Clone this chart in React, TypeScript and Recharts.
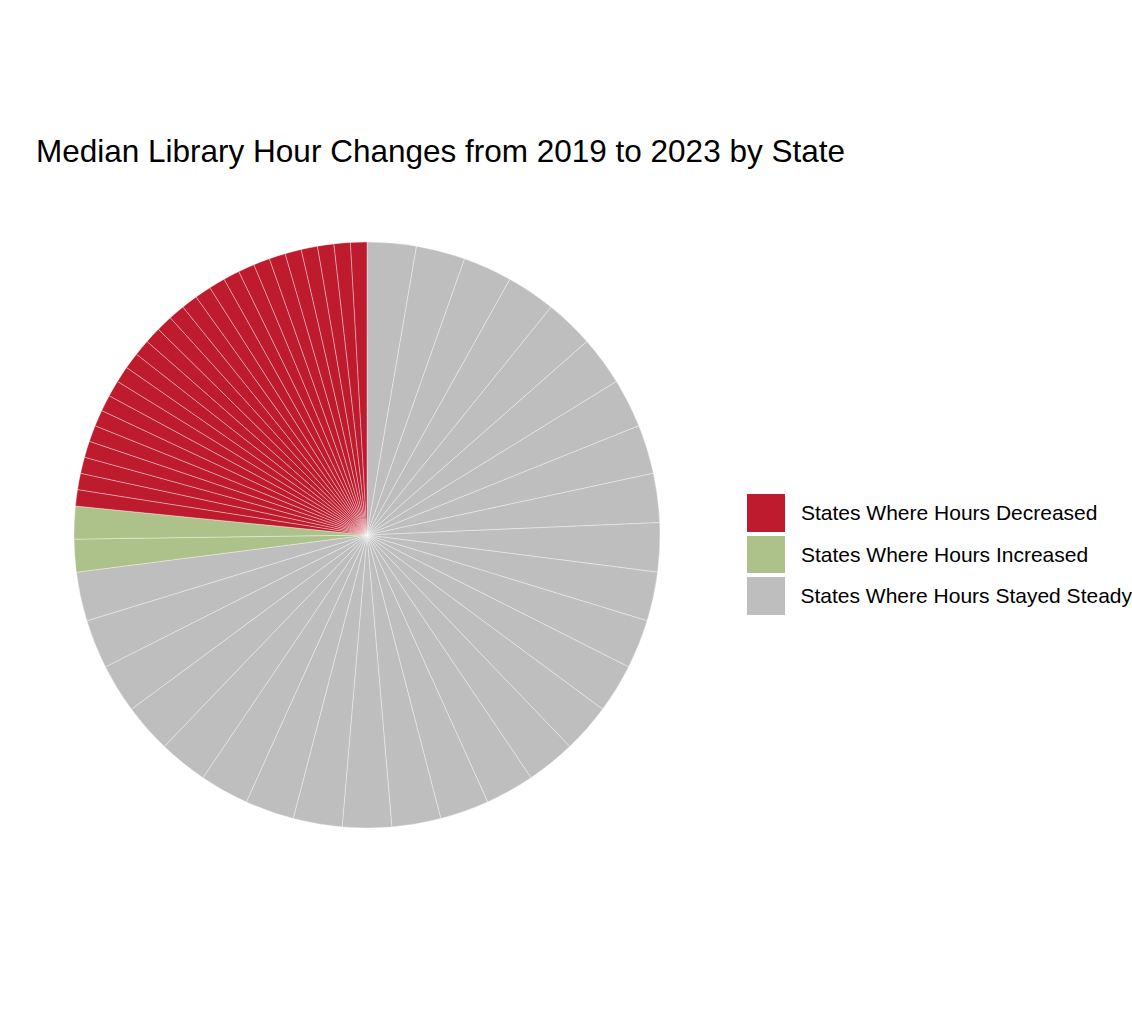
import React from "react"
import { PieChart, Pie, Cell, Legend } from "recharts"

// slices run clockwise from 12 o'clock: steady, then increased, then decreased
const steadyStates = [
  "AL", "AK", "AZ", "AR", "CT", "DE", "FL", "GA", "HI", "ID", "IN", "IA", "KS", "KY",
  "LA", "ME", "MS", "MO", "MT", "NE", "NV", "NH", "NM", "ND", "OK", "SD", "TN",
]
const steadyValues = [3, 3, 3, 3, 3, 3, 3, 3, 3, 3, 3, 3, 3, 3, 3, 3, 3, 3, 3, 3, 3, 3, 3, 3, 3, 3, 3]

const increasedStates = ["UT", "WY"]
const increasedValues = [2, 2]

const decreasedStates = [
  "CA", "CO", "DC", "IL", "MD", "MA", "MI", "MN", "NJ", "NY", "NC", "OH", "OR",
  "PA", "RI", "SC", "TX", "VT", "VA", "WA", "WV", "WI", "GU", "PR", "VI", "AS",
]
const decreasedValues = [1, 1, 1, 1, 1, 1, 1, 1, 1, 1, 1, 1, 1, 1, 1, 1, 1, 1, 1, 1, 1, 1, 1, 1, 1, 1]

const groupLabels = [
  "States Where Hours Decreased",
  "States Where Hours Increased",
  "States Where Hours Stayed Steady",
]
const groupColors = ["#BE1B2F", "#ACC28A", "#BEBEBE"]

const data = [
  ...steadyStates.map((state, i) => ({ state, value: steadyValues[i], group: 2 })),
  ...increasedStates.map((state, i) => ({ state, value: increasedValues[i], group: 1 })),
  ...decreasedStates.map((state, i) => ({ state, value: decreasedValues[i], group: 0 })),
]

const font = '"Liberation Sans", Arial, sans-serif'

function GroupLegend() {
  return (
    <div style={{ fontFamily: font }}>
      {groupLabels.map((label, i) => (
        <div key={label} style={{ display: "flex", alignItems: "center", height: 37.5, marginBottom: 4 }}>
          <div style={{ width: 38, height: 37.5, background: groupColors[i] }} />
          <span style={{ marginLeft: 16, fontSize: 21, lineHeight: "21px", color: "#000", whiteSpace: "nowrap" }}>
            {label}
          </span>
        </div>
      ))}
    </div>
  )
}

export default function App() {
  return (
    <div style={{ position: "absolute", left: 0, top: 0, width: 1132, height: 1029, background: "#fff" }}>
      <div
        style={{
          position: "absolute",
          left: 36,
          top: 136,
          fontFamily: font,
          fontSize: 31.5,
          lineHeight: "31.5px",
          color: "#000",
          whiteSpace: "nowrap",
        }}
      >
        Median Library Hour Changes from 2019 to 2023 by State
      </div>
      <PieChart width={1132} height={1029} margin={{ top: 0, right: 0, bottom: 0, left: 0 }}>
        <Pie
          data={data}
          dataKey="value"
          nameKey="state"
          cx={367}
          cy={535}
          outerRadius={293}
          startAngle={90}
          endAngle={-270}
          stroke="#ffffff"
          strokeWidth={0.35}
          isAnimationActive={false}
        >
          {data.map((d) => (
            <Cell key={d.state} fill={groupColors[d.group]} />
          ))}
        </Pie>
        <Legend
          layout="vertical"
          align="right"
          verticalAlign="middle"
          content={() => <GroupLegend />}
          wrapperStyle={{ left: 747, top: 494, right: "auto", bottom: "auto", width: 385 }}
        />
      </PieChart>
    </div>
  )
}
